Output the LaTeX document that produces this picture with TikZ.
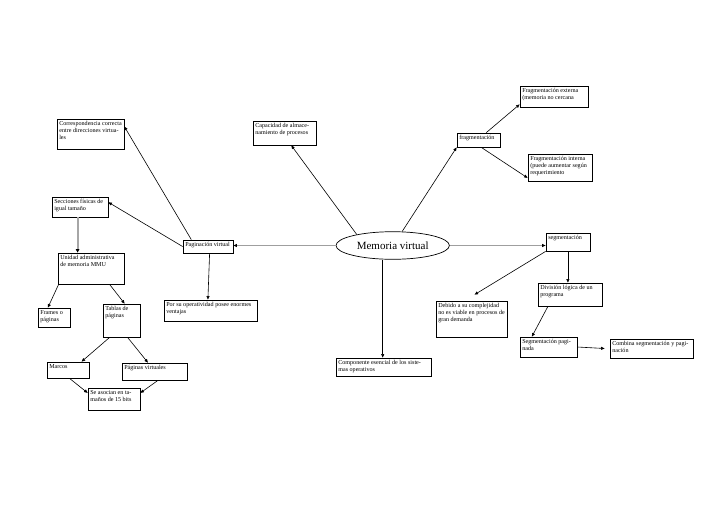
\documentclass[tikz,border=0pt]{standalone}
\usepackage{fontspec}
\setmainfont{Liberation Serif}
\usetikzlibrary{arrows.meta,shapes.geometric,fit}
\tikzset{
 box/.style={draw=black, line width=0.8pt, inner sep=0pt},
 txt/.style={font=\fontsize{6.1}{7.2}\selectfont, align=left, inner xsep=2.5pt, inner ysep=2.5pt, anchor=north west},
 conn/.style={line width=0.6pt, -{Triangle[length=3.5pt,width=3pt]}},
 gconn/.style={line width=0.8pt, draw=gray!75, -{Triangle[length=3.5pt,width=3pt,color=black]}},
 gthick/.style={line width=1.8pt, draw=gray!70, -{Triangle[length=3.5pt,width=3.5pt,color=black]}},
}
\newcommand\mybox[6]{\node[box, fit={(#2,#3) (#4,#5)}] (#1) {}; \node[txt] (#1-t) at (#1.north west) {#6};}
\begin{document}
\begin{tikzpicture}[x={(1pt,0)}, y={(0,-1pt)}]
\fill[white] (0,0) rectangle (728,515);
\useasboundingbox (0,0) rectangle (728,515);

\mybox{corr}{57}{119}{124}{149}{Correspondencia correcta\\entre direcciones virtua-\\les}
\mybox{cap}{253}{121}{316}{145}{Capacidad de almace-\\namiento de procesos}
\mybox{ext}{520}{86}{588}{107}{Fragmentación  externa\\(memoria no cercana}
\mybox{frag}{457}{133}{500}{147}{fragmentación}
\mybox{int}{528}{154}{592}{181}{Fragmentación interna\\(puede aumentar según\\requerimiento}
\mybox{sec}{52}{197}{108}{217}{Secciones físicas de\\igual tamaño}
\mybox{pag}{183}{240}{233}{253}{Paginación virtual}
\mybox{seg}{546}{233}{590}{251}{segmentación}
\mybox{uni}{58}{253}{124}{284}{Unidad administrativa\\de memoria MMU}
\mybox{div}{538}{283}{602}{306}{División lógica de un\\programa}
\mybox{fra}{38}{308}{70}{327}{Frames o\\páginas}
\mybox{tab}{103}{304}{140}{337}{Tablas de\\páginas}
\mybox{por}{164}{300}{257}{321}{Por su operatividad  posee enormes\\ventajas}
\mybox{deb}{436}{301}{507}{337}{Debido a su complejidad\\no es viable en procesos de\\gran demanda}
\mybox{segp}{520}{337}{577}{357}{Segmentación pagi-\\nada}
\mybox{comb}{610}{339}{693}{358}{Combina segmentación y pagi-\\nación}
\mybox{mar}{47}{362}{89}{378}{Marcos}
\mybox{pv}{122}{363}{187}{380}{Páginas virtuales}
\mybox{comp}{336}{358}{431}{376}{Componente esencial de los siste-\\mas operativos}
\mybox{se}{88}{388}{140}{410}{Se asocian en ta-\\maños de 15 bits}

\node[draw, ellipse, line width=0.7pt, minimum width=113.4pt, minimum height=27.6pt, inner sep=0pt,
      font=\fontsize{11}{13}\selectfont] (mem) at (392.7,245.5) {Memoria virtual};

% from Memoria virtual
\draw[conn] (mem.163) -- ([xshift=38.7pt]cap.south west);
\draw[conn] (mem.56) -- (frag.south west);
\draw[gconn] (mem.west) -- (mem.west -| pag.east);
\draw[gconn] (mem.east) -- (mem.east -| seg.west);
\draw[conn] ([xshift=-10pt]mem.south) -- ([xshift=-10pt]mem.south |- comp.north);

% fragmentacion
\draw[conn] ([xshift=29.7pt]frag.north west) -- ([yshift=3pt]ext.south west);
\draw[conn] ([xshift=24.7pt]frag.south west) -- ([yshift=3.5pt]int.south west);

% paginacion
\draw[conn] ([xshift=8.7pt]pag.north west) -- ([yshift=-8pt]corr.north east);
\draw[conn] (pag.west) -- ([yshift=-5.7pt]sec.north east);
\draw[conn] ([xshift=27pt]pag.south west) -- ([xshift=44.3pt]por.north west);
\draw[gthick] ([xshift=26pt]sec.south west) -- ([xshift=26pt]sec.south west |- uni.north);

% MMU branch
\draw[conn] ([xshift=1pt]uni.south west) -- ([xshift=10.3pt]fra.north west);
\draw[conn] ([xshift=52pt]uni.south west) -- ([xshift=22pt]tab.north west);
\draw[conn] ([xshift=7pt]tab.south west) -- ([xshift=35pt]mar.north west);
\draw[conn] ([xshift=25pt]tab.south west) -- ([xshift=26.3pt]pv.north west);
\draw[conn] ([xshift=23pt]mar.south west) -- ([yshift=-5.3pt]se.north west);
\draw[conn] ([xshift=36.3pt]pv.south west) -- ([yshift=-5.3pt]se.north east);

% segmentacion
\draw[conn] ([xshift=22.3pt]seg.south west) -- ([xshift=22.3pt]seg.south west |- div.north);
\draw[conn] (seg.south west) -- ([xshift=39pt,yshift=6pt]deb.north west);
\draw[conn] ([xshift=10.3pt]div.south west) -- ([xshift=12.3pt]segp.north west);
\draw[conn] (segp.east) -- ([xshift=-5pt]comb.west);
\end{tikzpicture}
\end{document}
